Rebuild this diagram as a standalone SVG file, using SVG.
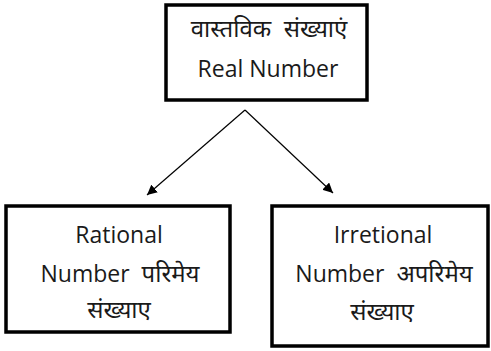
<svg xmlns="http://www.w3.org/2000/svg" width="491" height="351" viewBox="0 0 491 351">
  <style>
    .box { fill: #ffffff; stroke: #000000; stroke-width: 3.5; }
    .lbl { font-family: "Open Sans", "Noto Sans", "DejaVu Sans", sans-serif; font-size: 23px; fill: #1a1a1a; text-anchor: middle; white-space: pre; }
    .hi { font-size: 24px; }
    .conn { stroke: #000000; stroke-width: 1.2; fill: none; marker-end: url(#arrow); }
  </style>
  <defs>
    <marker id="arrow" viewBox="0 0 10 10" refX="10" refY="5" markerWidth="10" markerHeight="10" markerUnits="userSpaceOnUse" orient="auto">
      <path d="M0,0 L10,5 L0,10 z" fill="#000000"/>
    </marker>
  </defs>
  <rect width="491" height="351" fill="#ffffff"/>
  <g id="connectors">
    <line class="conn" x1="245" y1="110" x2="147" y2="195"/>
    <line class="conn" x1="245" y1="110" x2="333" y2="193"/>
  </g>
  <g id="real">
    <rect class="box" x="166" y="5" width="201" height="95"/>
    <text class="lbl hi" x="269" y="37" xml:space="preserve">वास्तविक  संख्याएं</text>
    <text class="lbl" x="268" y="77">Real Number</text>
  </g>
  <g id="rational">
    <rect class="box" x="6" y="206" width="224" height="126"/>
    <text class="lbl" x="119" y="243">Rational</text>
    <text class="lbl" x="120" y="282" xml:space="preserve">Number  <tspan class="hi">परिमेय</tspan></text>
    <text class="lbl hi" x="119" y="318">संख्याए</text>
  </g>
  <g id="irrational">
    <rect class="box" x="272" y="206" width="216" height="140"/>
    <text class="lbl" x="383" y="243">Irretional</text>
    <text class="lbl" x="384" y="282" xml:space="preserve">Number  <tspan class="hi">अपरिमेय</tspan></text>
    <text class="lbl hi" x="382" y="320">संख्याए</text>
  </g>
</svg>
